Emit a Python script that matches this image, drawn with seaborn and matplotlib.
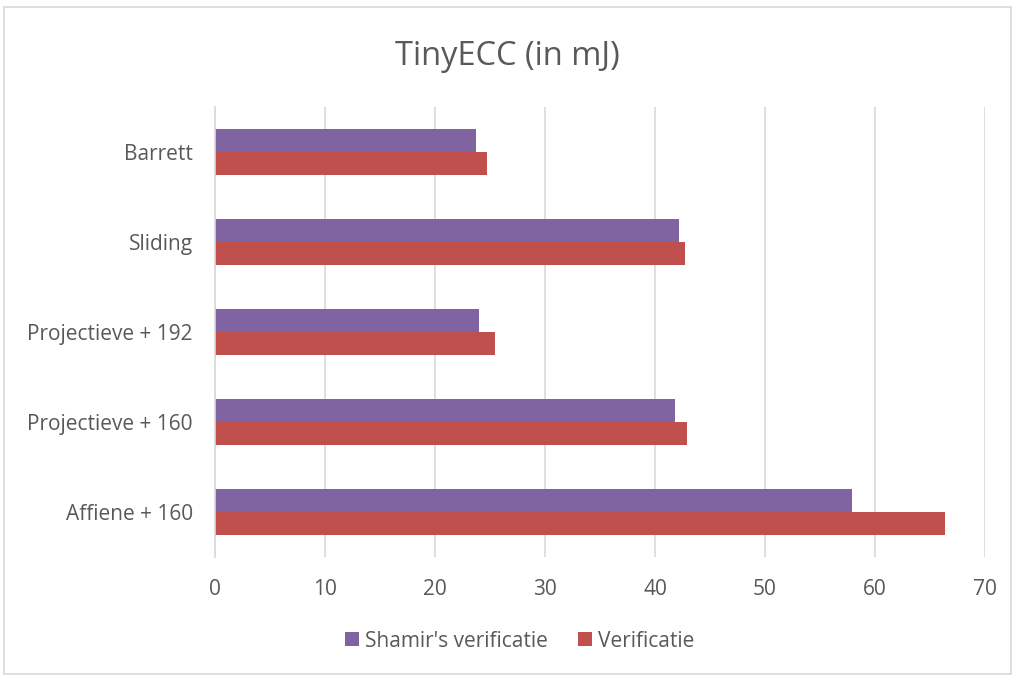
import matplotlib
matplotlib.use("Agg")
import matplotlib.pyplot as plt
import matplotlib.patches as mpatches
import seaborn as sns
import pandas as pd

# Energy cost per method, in mJ
categories = ["Barrett", "Sliding", "Projectieve + 192", "Projectieve + 160", "Affiene + 160"]
shamir_values = [23.7, 42.2, 24.0, 41.85, 57.9]
verificatie_values = [24.7, 42.75, 25.5, 42.9, 66.4]
series_names = ["Shamir's verificatie", "Verificatie"]
x_ticks = [0, 10, 20, 30, 40, 50, 60, 70]

colors = ["#8064A2", "#C0504D"]
text_color = "#595959"
grid_color = "#D9D9D9"

df = pd.DataFrame({
    "method": categories * 2,
    "value": shamir_values + verificatie_values,
    "series": [series_names[0]] * len(categories) + [series_names[1]] * len(categories),
})

sns.set_theme(style="white")
plt.rcParams["font.family"] = ["Open Sans", "DejaVu Sans"]

fig = plt.figure(figsize=(10.15, 6.77), dpi=100)
ax = fig.add_axes([0.2118, 0.1773, 0.7586, 0.6647])

sns.barplot(data=df, x="value", y="method", hue="series", order=categories,
            hue_order=series_names, palette=colors, orient="h", width=0.51,
            saturation=1, linewidth=0, ax=ax, legend=False)

ax.set_xlim(0, 70)
ax.set_xticks(x_ticks)
ax.set_xticklabels([str(t) for t in x_ticks])
ax.set_ylim(len(categories) - 0.5, -0.5)
ax.set_xlabel("")
ax.set_ylabel("")
ax.grid(axis="x", color=grid_color, linewidth=1.2)
ax.set_axisbelow(True)
for side in ["top", "right", "bottom"]:
    ax.spines[side].set_visible(False)
ax.spines["left"].set_color(grid_color)
ax.spines["left"].set_linewidth(1.2)
ax.tick_params(axis="both", length=0, labelsize=15, labelcolor=text_color)
ax.tick_params(axis="x", pad=16)
ax.tick_params(axis="y", pad=16)

fig.text(0.5, 0.917, "TinyECC (in mJ)", ha="center", va="center",
         fontsize=23.5, color=text_color)

handles = [mpatches.Patch(facecolor=c, edgecolor="none") for c in colors]
fig.legend(handles, series_names, loc="center", bbox_to_anchor=(0.512, 0.053),
           ncol=2, frameon=False, fontsize=15, labelcolor=text_color,
           handlelength=0.65, handleheight=0.65, handletextpad=0.3,
           columnspacing=1.45)

# Light chart frame
border = mpatches.Rectangle((0.004, 0.004), 0.992, 0.986, transform=fig.transFigure,
                            fill=False, edgecolor=grid_color, linewidth=1.2)
fig.patches.append(border)

fig.savefig("out.png", dpi=100)
